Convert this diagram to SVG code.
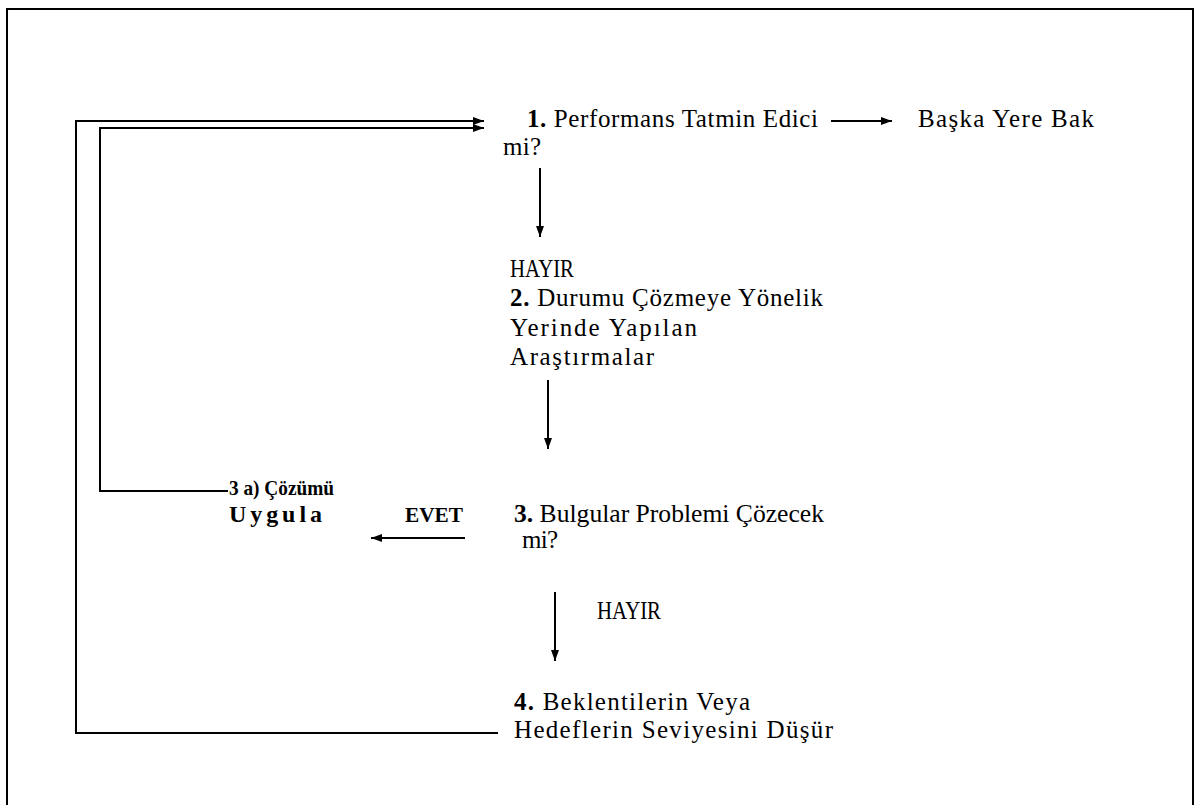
<svg xmlns="http://www.w3.org/2000/svg" width="1196" height="805" viewBox="0 0 1196 805">
  <defs>
    <marker id="arrow" viewBox="0 0 11 10" refX="11" refY="5" markerWidth="11" markerHeight="10" markerUnits="userSpaceOnUse" orient="auto">
      <path d="M0,1 L11,5 L0,9 Z" fill="#000"/>
    </marker>
    <style>
      text { font-family: "Liberation Serif", "Times New Roman", serif; font-size: 25px; fill: #000; }
      .b { font-weight: bold; }
      .sm { font-size: 22px; }
      .md { font-size: 24px; }
      .ln { fill: none; stroke: #000; stroke-width: 2; }
    </style>
  </defs>
  <rect width="1196" height="805" fill="#fff"/>
  <!-- frame -->
  <rect x="7" y="9" width="1186" height="820" fill="none" stroke="#000" stroke-width="2"/>

  <g id="connectors">
    <!-- feedback loops back to step 1 -->
    <polyline class="ln" points="498,733 76,733 76,121 484,121" marker-end="url(#arrow)"/>
    <polyline class="ln" points="228,491 100,491 100,128 484,128" marker-end="url(#arrow)"/>
    <!-- step 1 yes -> elsewhere -->
    <line class="ln" x1="831" y1="121" x2="892" y2="121" marker-end="url(#arrow)"/>
    <!-- downward flow -->
    <line class="ln" x1="540" y1="168" x2="540" y2="237" marker-end="url(#arrow)"/>
    <line class="ln" x1="548" y1="380" x2="548" y2="449" marker-end="url(#arrow)"/>
    <line class="ln" x1="555" y1="592" x2="555" y2="661" marker-end="url(#arrow)"/>
    <!-- step 3 yes -> apply -->
    <line class="ln" x1="465" y1="538" x2="371" y2="538" marker-end="url(#arrow)"/>
  </g>

  <g id="step1">
    <text x="527" y="127" textLength="291" lengthAdjust="spacing"><tspan class="b">1.</tspan> Performans Tatmin Edici</text>
    <text x="503" y="155" textLength="38" lengthAdjust="spacing">mi?</text>
  </g>
  <g id="elsewhere">
    <text x="918" y="127" textLength="176" lengthAdjust="spacing">Başka Yere Bak</text>
  </g>
  <g id="step2">
    <text x="510" y="277" textLength="64" lengthAdjust="spacingAndGlyphs">HAYIR</text>
    <text x="510" y="306" textLength="313" lengthAdjust="spacing"><tspan class="b">2.</tspan> Durumu Çözmeye Yönelik</text>
    <text x="510" y="336" textLength="187" lengthAdjust="spacing">Yerinde Yapılan</text>
    <text x="510" y="365" textLength="144" lengthAdjust="spacing">Araştırmalar</text>
  </g>
  <g id="step3a">
    <text class="b sm" x="229" y="495" textLength="105" lengthAdjust="spacingAndGlyphs">3 a) Çözümü</text>
    <text class="b md" x="229" y="522" textLength="93" lengthAdjust="spacing">Uygula</text>
    <text class="b sm" x="405" y="522" textLength="58" lengthAdjust="spacingAndGlyphs">EVET</text>
  </g>
  <g id="step3">
    <text x="514" y="522" textLength="310" lengthAdjust="spacingAndGlyphs"><tspan class="b">3.</tspan> Bulgular Problemi Çözecek</text>
    <text x="522" y="548" textLength="36" lengthAdjust="spacing">mi?</text>
    <text x="597" y="619" textLength="64" lengthAdjust="spacingAndGlyphs">HAYIR</text>
  </g>
  <g id="step4">
    <text x="514" y="710" textLength="236" lengthAdjust="spacing"><tspan class="b">4.</tspan> Beklentilerin Veya</text>
    <text x="514" y="738" textLength="319" lengthAdjust="spacing">Hedeflerin Seviyesini Düşür</text>
  </g>
</svg>
